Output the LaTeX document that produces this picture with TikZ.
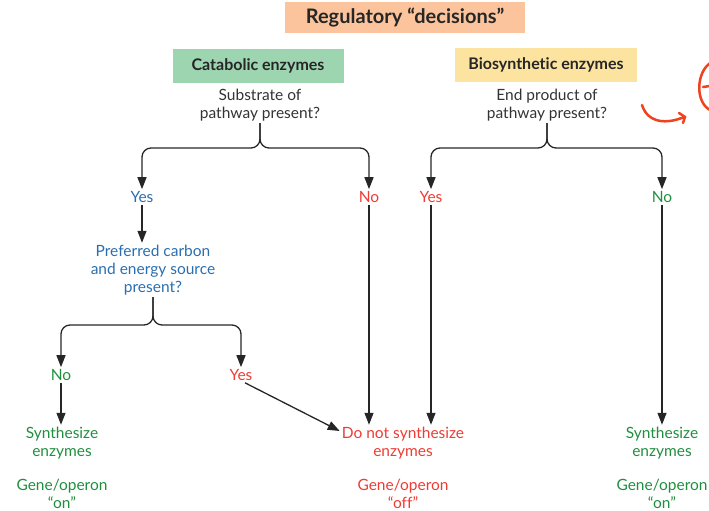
\documentclass[tikz,border=0pt]{standalone}
\usepackage{fontspec}
\setmainfont{Lato}[Ligatures=NoCommon]
\usetikzlibrary{arrows.meta}
\definecolor{boxorange}{HTML}{FBC49C}
\definecolor{boxgreen}{HTML}{9DD5B1}
\definecolor{boxyellow}{HTML}{FCE3A0}
\definecolor{txtblue}{HTML}{2A6EB0}
\definecolor{txtred}{HTML}{EE3B33}
\definecolor{txtgreen}{HTML}{1F8F3F}
\definecolor{arrowgray}{HTML}{262626}
\definecolor{penred}{HTML}{F0421E}

\begin{document}
\begin{tikzpicture}[x=1pt,y=1pt,
  title/.style={fill=boxorange,font=\fontsize{20}{24}\selectfont\bfseries,minimum width=240,minimum height=31,text=black!85},
  head/.style={font=\fontsize{16}{19}\selectfont\bfseries,minimum height=33,text=black!85},
  txt/.style={align=center,inner sep=2pt,font=\fontsize{15.5}{18}\selectfont},
  ask/.style={txt,text=black!80},
  ans/.style={txt},
  branch/.style={draw=arrowgray,line width=1.3pt,rounded corners=9pt,-{Triangle[length=12pt,width=9pt]}},
  flow/.style={draw=arrowgray,line width=1.3pt,-{Triangle[length=12pt,width=9pt]}}]
\useasboundingbox (0,0) rectangle (709,-511);
% headers
\node[title] (top) at (405,-18) {Regulatory “decisions”};
\node[head,fill=boxgreen,minimum width=171] (cat) at (258,-66) {Catabolic enzymes};
\node[head,fill=boxyellow,minimum width=182] (bio) at (546,-65) {Biosynthetic enzymes};
% catabolic side
\node[ask] (substr) at (260,-105) {Substrate of\\pathway present?};
\node[ans,text=txtblue] (yes1) at (142,-197) {Yes};
\node[ans,text=txtred] (no1) at (369,-197) {No};
\node[ans,text=txtblue] (pref) at (153,-270) {Preferred carbon\\and energy source\\present?};
\node[ans,text=txtgreen] (no3) at (61,-375) {No};
\node[ans,text=txtred] (yes3) at (241,-375) {Yes};
\node[ans,text=txtgreen] (synth1) at (62,-443) {Synthesize\\enzymes};
\node[ans,text=txtgreen] (gene1) at (62,-494) {Gene/operon\\“on”};
\node[ans,text=txtred] (dont) at (403,-443) {Do not synthesize\\enzymes};
\node[ans,text=txtred] (geneoff) at (403,-494) {Gene/operon\\“off”};
% biosynthetic side
\node[ask] (endprod) at (547,-105) {End product of\\pathway present?};
\node[ans,text=txtred] (yes2) at (431,-197) {Yes};
\node[ans,text=txtgreen] (no2) at (662,-197) {No};
\node[ans,text=txtgreen] (synth2) at (662,-443) {Synthesize\\enzymes};
\node[ans,text=txtgreen] (gene2) at (662,-494) {Gene/operon\\“on”};
% branches
\draw[branch] (substr.south) -- (substr.south |- 0,-148) -| (yes1.north);
\draw[branch] (substr.south) -- (substr.south |- 0,-148) -| (no1.north);
\draw[branch] (endprod.south) -- (endprod.south |- 0,-148) -| (yes2.north);
\draw[branch] (endprod.south) -- (endprod.south |- 0,-148) -| (no2.north);
\draw[branch] (pref.south) -- (pref.south |- 0,-325) -| (no3.north);
\draw[branch] (pref.south) -- (pref.south |- 0,-325) -| (yes3.north);
% straight arrows
\draw[flow] (yes1.south) -- (pref.north -| yes1.south);
\draw[flow] (no3.south) -- (no3.south |- synth1.north);
\draw[flow] ([xshift=4pt]yes3.south) -- ([yshift=12pt]dont.west);
\draw[flow] (no1.south) -- (no1.south |- dont.north);
\draw[flow] (yes2.south) -- (yes2.south |- dont.north);
\draw[flow] (no2.south) -- (synth2.north);
% pen marks
\draw[penred,line width=2.5pt,line cap=round] (642,-105) .. controls (648,-124) and (668,-124) .. (684,-117);
\draw[penred,line width=2.5pt,line cap=round] (679,-113) -- (685,-117) -- (683,-123);
\draw[penred,line width=2.5pt,line cap=round] (712,-62) .. controls (696,-70) and (694,-104) .. (712,-111);
\draw[penred,line width=2.5pt,line cap=round] (703,-87) -- (710,-86);
\end{tikzpicture}
\end{document}
